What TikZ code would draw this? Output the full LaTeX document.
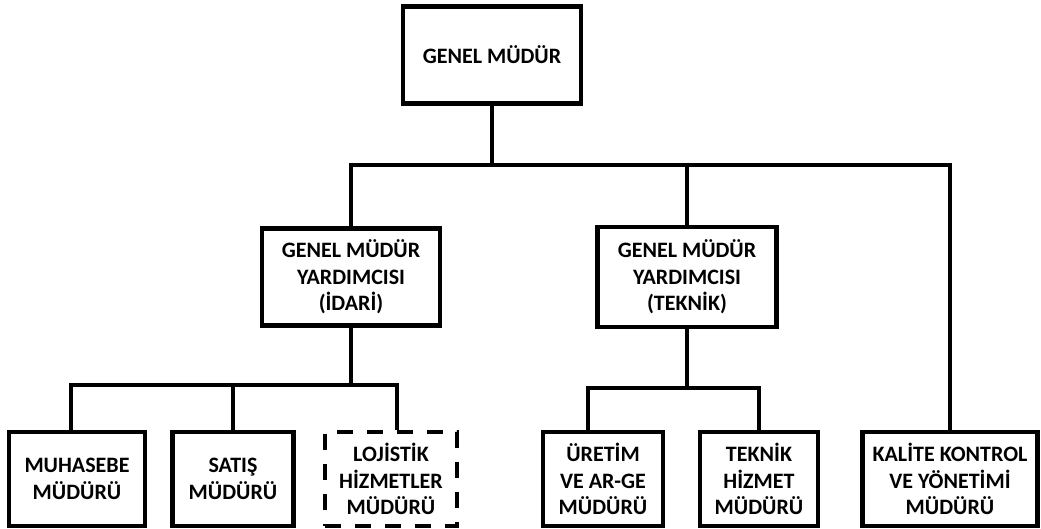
\documentclass[tikz,border=0pt]{standalone}
\usepackage{fontspec}
\setmainfont{Carlito}
\newcommand{\office}[6] {
    \node[box,#5,minimum width={#4}] (#1) at ({#2}, {#3}) {#6};
}
\tikzset{
    box/.style={
        draw,
        line width=4.5pt,
        fill=white,
        align=center,
        inner sep=0pt,
        font=\fontsize{22}{26.5}\selectfont\bfseries
    },
    high/.style={minimum height=97},
    low/.style={minimum height=94},
    open/.style={dash pattern=on 16pt off 14pt},
    link/.style={line width=4.5pt}
}
\begin{document}
\begin{tikzpicture}[x=1pt,y=1pt]
        \useasboundingbox (0,0) rectangle (1041,-528);
        \office{gm}{492}{-55}{178}{high}{GENEL MÜDÜR}
        \office{idari}{351}{-277}{178}{high}{GENEL MÜDÜR\\YARDIMCISI\\(İDARİ)}
        \office{teknik}{687}{-277}{179}{minimum height=100}{GENEL MÜDÜR\\YARDIMCISI\\(TEKNİK)}
        \office{muhasebe}{77}{-479}{136}{low}{MUHASEBE\\MÜDÜRÜ}
        \office{satis}{233}{-479}{121}{low}{SATIŞ\\MÜDÜRÜ}
        \office{lojistik}{391}{-479}{132}{low,open}{LOJİSTİK\\HİZMETLER\\MÜDÜRÜ}
        \office{uretim}{603}{-479}{120}{low}{ÜRETİM\\VE AR-GE\\MÜDÜRÜ}
        \office{hizmet}{759}{-479}{118}{low}{TEKNİK\\HİZMET\\MÜDÜRÜ}
        \office{kalite}{950}{-479}{175}{low}{KALİTE KONTROL\\VE YÖNETİMİ\\MÜDÜRÜ}
        \coordinate (topbus) at (0,-165);
        \coordinate (idbus) at (0,-385);
        \coordinate (tkbus) at (0,-388);
        % genel mudur level
        \draw[link] (gm.south) -- (gm.south |- topbus);
        \draw[link] (idari.north) |- (kalite.north |- topbus) -- (kalite.north);
        \draw[link] (teknik.north) -- (teknik.north |- topbus);
        % idari side
        \draw[link] (idari.south) -- (idari.south |- idbus);
        \draw[link] ([xshift=-6]muhasebe.north) |- ([xshift=6]lojistik.north |- idbus) -- ([xshift=6]lojistik.north);
        \draw[link] (satis.north) -- (satis.north |- idbus);
        % teknik side
        \draw[link] (teknik.south) -- (teknik.south |- tkbus);
        \draw[link] ([xshift=-15]uretim.north) |- (hizmet.north |- tkbus) -- (hizmet.north);
    \end{tikzpicture}
\end{document}
